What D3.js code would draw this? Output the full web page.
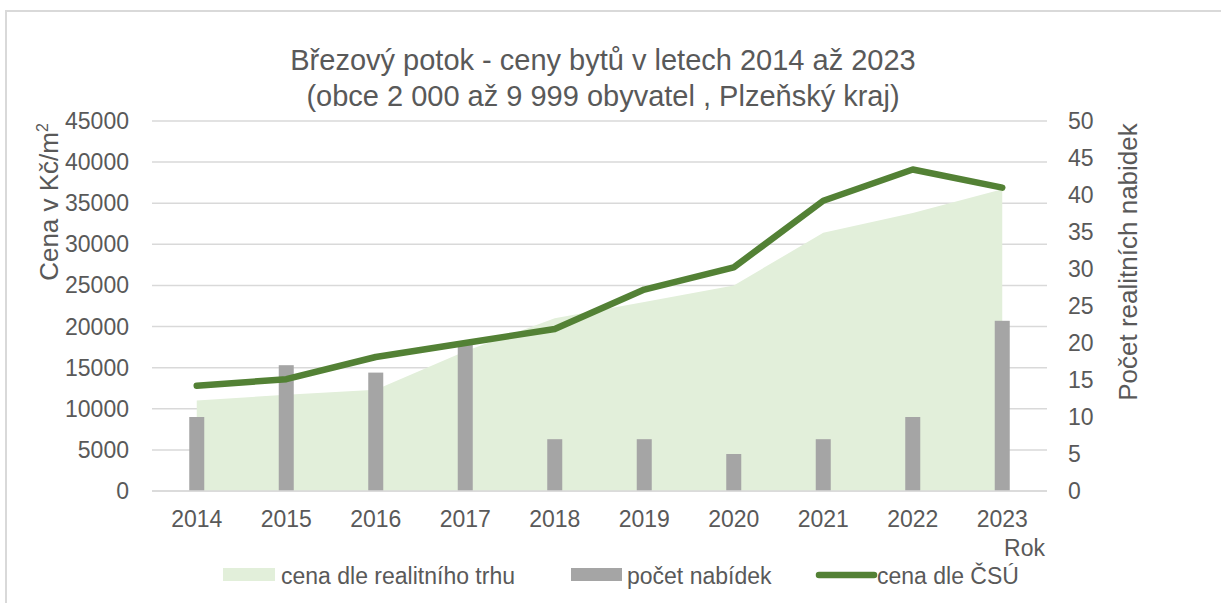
<html>
    <head>
        <style>
            body{ margin:0; background:#fff; }
            text{ font-family: "Liberation Sans", Arial, sans-serif; fill:#595959; }
        </style>
        <script src="https://d3js.org/d3.v7.min.js"></script>
    </head>
    <body>
        <svg width="1221" height="603"></svg>
        <script>
            // data
            let years = ["2014","2015","2016","2017","2018","2019","2020","2021","2022","2023"]
            let marketPrice = [11000, 11700, 12300, 17000, 21000, 23000, 25000, 31400, 33800, 36700]
            let offers = [10, 17, 16, 20, 7, 7, 5, 7, 10, 23]
            let csuPrice = [12800, 13600, 16300, 18000, 19700, 24500, 27200, 35300, 39100, 36900]
            let leftTicks = [0,5000,10000,15000,20000,25000,30000,35000,40000,45000]
            let rightTicks = [0,5,10,15,20,25,30,35,40,45,50]

            let svg = d3.select("svg")
            let plotLeft = 152, plotRight = 1047, plotTop = 121, plotBottom = 491

            // chart border
            svg.append("rect")
               .attr("x", 6).attr("y", 11)
               .attr("width", 1240).attr("height", 620)
               .attr("fill", "none")
               .attr("stroke", "#d9d9d9")
               .attr("stroke-width", 2)

            let xScale = d3.scaleBand().domain(years).range([plotLeft, plotRight]),
                yLeft = d3.scaleLinear().domain([0, 45000]).range([plotBottom, plotTop]),
                yRight = d3.scaleLinear().domain([0, 50]).range([plotBottom, plotTop])
            let cx = function(d){ return xScale(d) + xScale.bandwidth()/2 }

            // title
            svg.append("text").attr("x", 603).attr("y", 70)
               .attr("text-anchor", "middle").attr("font-size", 29)
               .text("Březový potok - ceny bytů v letech 2014 až 2023")
            svg.append("text").attr("x", 603).attr("y", 106)
               .attr("text-anchor", "middle").attr("font-size", 29)
               .text("(obce 2 000 až 9 999 obyvatel , Plzeňský kraj)")

            // gridlines
            svg.append("g").selectAll("line")
               .data(leftTicks).enter().append("line")
               .attr("x1", plotLeft).attr("x2", plotRight)
               .attr("y1", d => yLeft(d)).attr("y2", d => yLeft(d))
               .attr("stroke", "#d9d9d9").attr("stroke-width", 1.5)

            // left axis labels
            svg.append("g").selectAll("text")
               .data(leftTicks).enter().append("text")
               .attr("x", 129).attr("y", d => yLeft(d)).attr("dy", "0.35em")
               .attr("text-anchor", "end").attr("font-size", 23)
               .text(d => d)

            // right axis labels
            svg.append("g").selectAll("text")
               .data(rightTicks).enter().append("text")
               .attr("x", 1068).attr("y", d => yRight(d)).attr("dy", "0.35em")
               .attr("text-anchor", "start").attr("font-size", 23)
               .text(d => d)

            // x labels
            svg.append("g").selectAll("text")
               .data(years).enter().append("text")
               .attr("x", d => cx(d)).attr("y", 527)
               .attr("text-anchor", "middle").attr("font-size", 23)
               .text(d => d)

            svg.append("text").attr("x", 1045).attr("y", 556)
               .attr("text-anchor", "end").attr("font-size", 23).text("Rok")

            // axis titles
            let lt = svg.append("text")
               .attr("transform", "translate(58,202) rotate(-90)")
               .attr("text-anchor", "middle").attr("font-size", 26)
            lt.append("tspan").text("Cena v Kč/m")
            lt.append("tspan").attr("font-size", 16).attr("dy", -10).text("2")

            svg.append("text")
               .attr("transform", "translate(1137,262) rotate(-90)")
               .attr("text-anchor", "middle").attr("font-size", 26)
               .text("Počet realitních nabidek")

            // area
            let area = d3.area()
               .x((d, i) => cx(years[i]))
               .y0(plotBottom)
               .y1(d => yLeft(d))
            svg.append("path").datum(marketPrice)
               .attr("d", area).attr("fill", "#e2efda")

            // bars
            svg.append("g").selectAll("rect")
               .data(offers).enter().append("rect")
               .attr("x", (d, i) => cx(years[i]) - 7.5)
               .attr("y", d => yRight(d))
               .attr("width", 15)
               .attr("height", d => plotBottom - yRight(d))
               .attr("fill", "#a5a5a5")

            // baseline
            svg.append("line").attr("x1", plotLeft).attr("x2", plotRight)
               .attr("y1", plotBottom).attr("y2", plotBottom)
               .attr("stroke", "#d9d9d9").attr("stroke-width", 1.5)

            // line
            let line = d3.line()
               .x((d, i) => cx(years[i]))
               .y(d => yLeft(d))
            svg.append("path").datum(csuPrice)
               .attr("d", line).attr("fill", "none")
               .attr("stroke", "#538135").attr("stroke-width", 6.5)
               .attr("stroke-linecap", "round").attr("stroke-linejoin", "round")

            // legend
            let lg = svg.append("g")
            lg.append("rect").attr("x", 223).attr("y", 568).attr("width", 52).attr("height", 13).attr("fill", "#e2efda")
            lg.append("text").attr("x", 281).attr("y", 584).attr("font-size", 23).text("cena dle realitního trhu")
            lg.append("rect").attr("x", 571).attr("y", 568).attr("width", 51).attr("height", 13).attr("fill", "#a5a5a5")
            lg.append("text").attr("x", 627).attr("y", 584).attr("font-size", 23).text("počet nabídek")
            lg.append("line").attr("x1", 819).attr("x2", 874).attr("y1", 575).attr("y2", 575)
              .attr("stroke", "#538135").attr("stroke-width", 6.5).attr("stroke-linecap", "round")
            lg.append("text").attr("x", 877).attr("y", 584).attr("font-size", 23).text("cena dle ČSÚ")
        </script>
    </body>
</html>
